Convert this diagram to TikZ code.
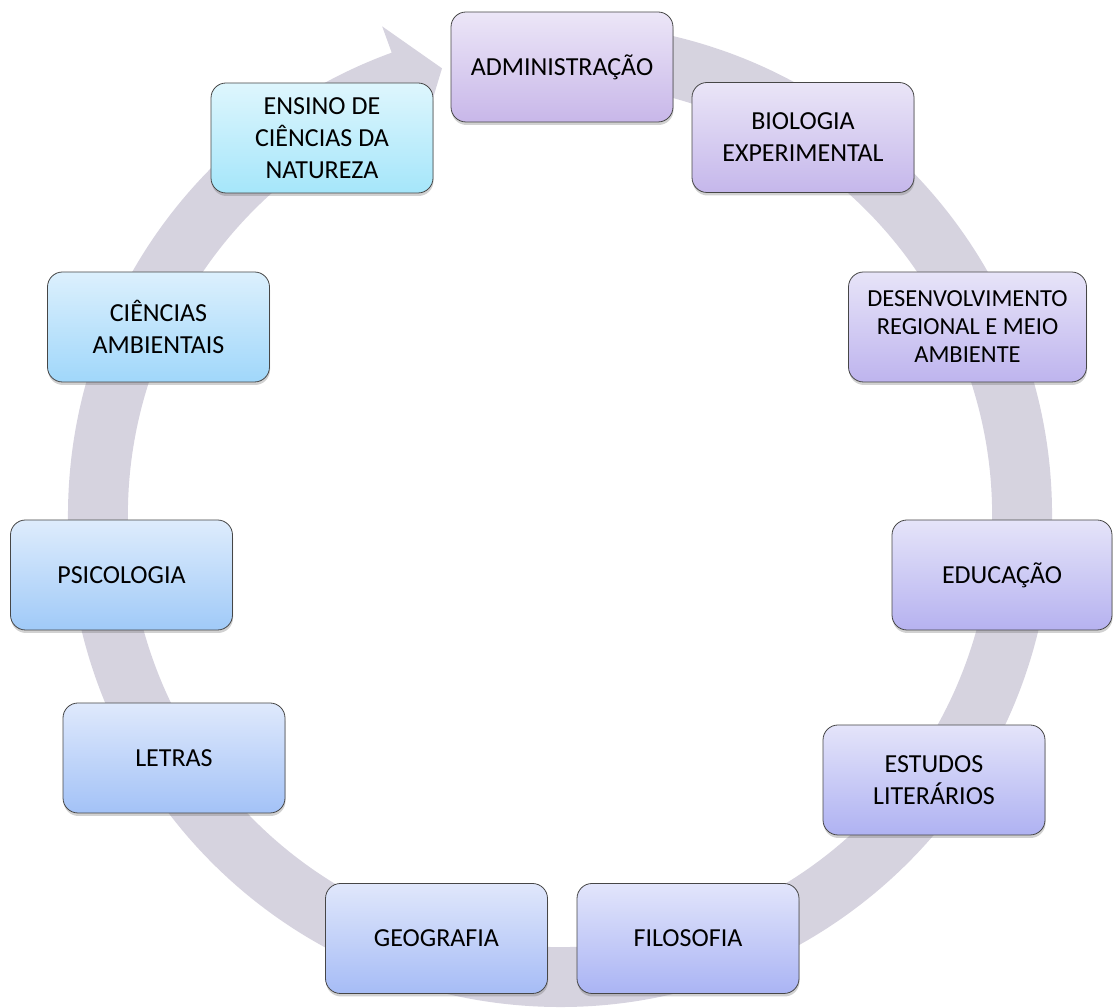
\documentclass[tikz,border=0pt]{standalone}
\usepackage{fontspec}
\setmainfont{Carlito}
\usetikzlibrary{shadows}
\definecolor{bandc}{RGB}{214,211,223}
\definecolor{bordc}{RGB}{70,70,70}
\definecolor{aT}{RGB}{236,230,247}\definecolor{aB}{RGB}{200,183,233}
\definecolor{bT}{RGB}{234,229,247}\definecolor{bB}{RGB}{197,183,235}
\definecolor{cT}{RGB}{231,228,248}\definecolor{cB}{RGB}{190,180,238}
\definecolor{dT}{RGB}{229,228,249}\definecolor{dB}{RGB}{182,178,240}
\definecolor{eT}{RGB}{228,228,250}\definecolor{eB}{RGB}{175,178,242}
\definecolor{fT}{RGB}{226,229,251}\definecolor{fB}{RGB}{170,180,244}
\definecolor{gT}{RGB}{224,231,251}\definecolor{gB}{RGB}{166,188,246}
\definecolor{hT}{RGB}{223,233,252}\definecolor{hB}{RGB}{163,194,247}
\definecolor{iT}{RGB}{222,236,252}\definecolor{iB}{RGB}{160,202,248}
\definecolor{jT}{RGB}{220,240,253}\definecolor{jB}{RGB}{160,215,250}
\definecolor{kT}{RGB}{222,246,253}\definecolor{kB}{RGB}{165,230,250}
\tikzset{
  box/.style={draw=bordc, line width=0.8pt, rounded corners=15pt,
    minimum width=222pt, minimum height=110pt, align=center, inner sep=4pt,
    font=\fontsize{26}{32}\selectfont, text=black,
    drop shadow={shadow xshift=0.5pt, shadow yshift=-3pt, opacity=0.3, fill=black!60}},
  shadecol/.style 2 args={top color=#1, bottom color=#2},
}
\begin{document}
\begin{tikzpicture}[x=1pt,y=1pt]
\useasboundingbox (0,0) rectangle (1113,1008);
% circular arrow band
\begin{scope}[shift={(560,493)}]
\fill[bandc] (85:492pt) arc[start angle=85, end angle=-250, radius=492pt]
  -- (-250:520pt) -- (-255.2:462pt) -- (-250:404pt) -- (-250:432pt)
  arc[start angle=-250, end angle=85, radius=432pt] -- cycle;
\end{scope}
% boxes
\node[box, shadecol={aT}{aB}] (adm) at (562,941) {ADMINISTRAÇÃO};
\node[box, shadecol={bT}{bB}] (bio) at (803,870.5) {BIOLOGIA\\EXPERIMENTAL};
\node[box, shadecol={cT}{cB}, minimum width=238pt, font=\fontsize{24.5}{28}\selectfont] (des) at (967.5,681) {DESENVOLVIMENTO\\REGIONAL E MEIO\\AMBIENTE};
\node[box, shadecol={dT}{dB}, minimum width=220pt] (edu) at (1002,433) {EDUCAÇÃO};
\node[box, shadecol={eT}{eB}] (est) at (934,228) {ESTUDOS\\LITERÁRIOS};
\node[box, shadecol={fT}{fB}] (fil) at (688,69.5) {FILOSOFIA};
\node[box, shadecol={gT}{gB}] (geo) at (436.5,69.5) {GEOGRAFIA};
\node[box, shadecol={hT}{hB}] (let) at (174,250) {LETRAS};
\node[box, shadecol={iT}{iB}] (psi) at (121.5,433) {PSICOLOGIA};
\node[box, shadecol={jT}{jB}] (cia) at (158.5,681) {CIÊNCIAS\\AMBIENTAIS};
\node[box, shadecol={kT}{kB}] (ens) at (322,870) {ENSINO DE\\CIÊNCIAS DA\\NATUREZA};
\end{tikzpicture}
\end{document}
